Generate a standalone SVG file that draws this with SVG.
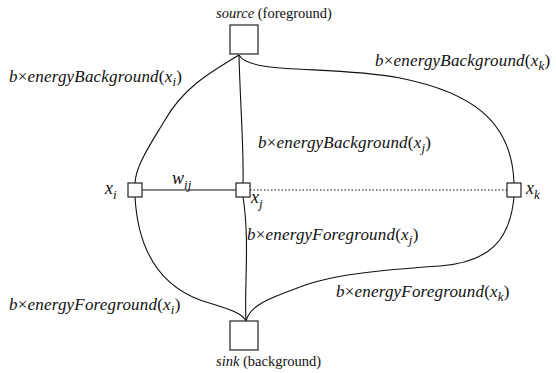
<svg xmlns="http://www.w3.org/2000/svg" width="556" height="373" viewBox="0 0 556 373" font-family="'Liberation Serif','DejaVu Serif',serif">
<style>
text{font-family:"Liberation Serif","DejaVu Serif",serif;font-size:14.5px;fill:#111}
.lab{font-size:17px;font-style:italic;letter-spacing:0.2px}
.var{font-size:18px;font-style:italic}
.it{font-style:italic}
.up{font-style:normal}
.sub{font-size:13px;font-style:italic}
.box{fill:#fff;stroke:#222;stroke-width:1.2}
.edge{fill:none;stroke:#111;stroke-width:1.1}
.dot{fill:none;stroke:#111;stroke-width:1;stroke-dasharray:1.5 2}
</style>
<g id="connectors">
<path class="edge" d="M239,55 C215,70 185,85 165,120 C150,145 136,165 135,183"/>
<path class="edge" d="M239,55 C240,100 244,150 243,183"/>
<path class="edge" d="M239,55 C250,75 330,65 400,78 C470,92 512,120 514,183"/>
<path class="edge" d="M135,197 C138,250 160,285 200,300 C225,308 242,312 246,321"/>
<path class="edge" d="M243,197 C250,240 244,290 246,321"/>
<path class="edge" d="M514,197 C510,240 490,262 440,266 C380,270 330,275 300,287 C270,298 250,305 246,321"/>
<line class="edge" x1="142" y1="190" x2="236" y2="190"/>
<line class="dot" x1="250" y1="190" x2="507" y2="190"/>
</g>
<g id="source">
<rect class="box" x="230" y="25" width="28" height="29"/>
<text x="216" y="18"><tspan class="it">source</tspan> (foreground)</text>
</g>
<g id="sink">
<rect class="box" x="230" y="321" width="28" height="29"/>
<text x="216" y="366"><tspan class="it">sink</tspan> (background)</text>
</g>
<g id="xi">
<rect class="box" x="128" y="183" width="14" height="14"/>
<text x="105" y="194" class="var">x<tspan class="sub" dy="5">i</tspan></text>
</g>
<g id="xj">
<rect class="box" x="236" y="183" width="14" height="14"/>
<text x="251" y="203" class="var">x<tspan class="sub" dy="5">j</tspan></text>
</g>
<g id="xk">
<rect class="box" x="507" y="183" width="14" height="14"/>
<text x="526" y="194" class="var">x<tspan class="sub" dy="5">k</tspan></text>
</g>
<g id="labels">
<text x="172" y="184" class="var">w<tspan class="sub" dy="5">ij</tspan></text>
<text x="9" y="82" class="lab">b<tspan class="up">×</tspan>energyBackground<tspan class="up">(</tspan>x<tspan class="sub" dy="4">i</tspan><tspan class="up" dy="-4">)</tspan></text>
<text x="375" y="66" class="lab">b<tspan class="up">×</tspan>energyBackground<tspan class="up">(</tspan>x<tspan class="sub" dy="4">k</tspan><tspan class="up" dy="-4">)</tspan></text>
<text x="258" y="148" class="lab">b<tspan class="up">×</tspan>energyBackground<tspan class="up">(</tspan>x<tspan class="sub" dy="4">j</tspan><tspan class="up" dy="-4">)</tspan></text>
<text x="247" y="240" class="lab">b<tspan class="up">×</tspan>energyForeground<tspan class="up">(</tspan>x<tspan class="sub" dy="4">j</tspan><tspan class="up" dy="-4">)</tspan></text>
<text x="9" y="310" class="lab">b<tspan class="up">×</tspan>energyForeground<tspan class="up">(</tspan>x<tspan class="sub" dy="4">i</tspan><tspan class="up" dy="-4">)</tspan></text>
<text x="336" y="297" class="lab">b<tspan class="up">×</tspan>energyForeground<tspan class="up">(</tspan>x<tspan class="sub" dy="4">k</tspan><tspan class="up" dy="-4">)</tspan></text>
</g>
</svg>
